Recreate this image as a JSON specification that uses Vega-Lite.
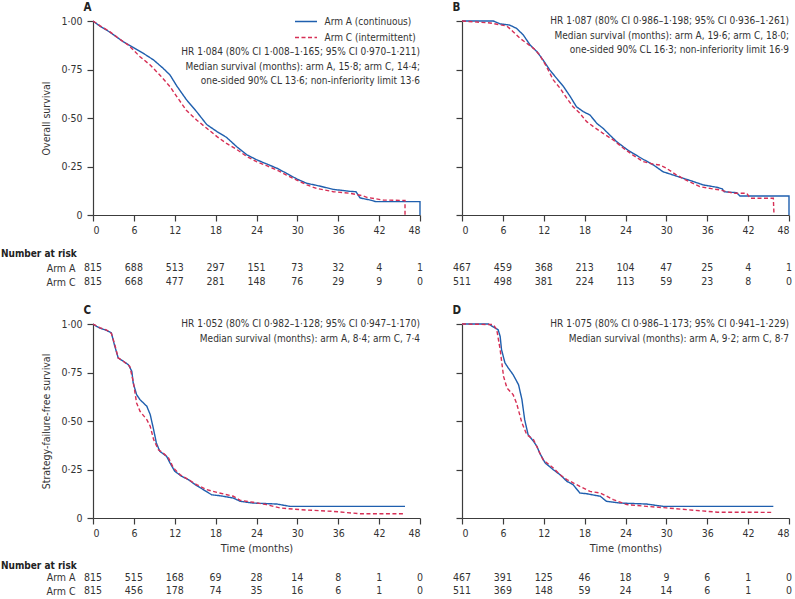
{
"$schema": "https://vega.github.io/schema/vega-lite/v6.json",
"padding": {"left": 0, "top": 1, "right": 2, "bottom": 2},
"config": {
  "font": "DejaVu Sans Condensed, Liberation Sans, sans-serif",
  "view": {"stroke": null},
  "axis": {"domainColor": "#3c3c3c", "tickColor": "#3c3c3c", "labelColor": "#333333", "labelFontSize": 10.5, "titleFontSize": 10.5, "titleFontWeight": "normal", "titleColor": "#333333", "grid": false, "tickSize": 6, "domainWidth": 1.2, "tickWidth": 1.2},
  "text": {"color": "#333333"}
},
"datasets": {
  "notes": [
    {"panel": "A", "note": "HR 1·084 (80% CI 1·008–1·165; 95% CI 0·970–1·211)\nMedian survival (months): arm A, 15·8; arm C, 14·4;\none-sided 90% CL 13·6; non-inferiority limit 13·6"},
    {"panel": "B", "note": "HR 1·087 (80% CI 0·986–1·198; 95% CI 0·936–1·261)\nMedian survival (months): arm A, 19·6; arm C, 18·0;\none-sided 90% CL 16·3; non-inferiority limit 16·9"},
    {"panel": "C", "note": "HR 1·052 (80% CI 0·982–1·128; 95% CI 0·947–1·170)\nMedian survival (months): arm A, 8·4; arm C, 7·4"},
    {"panel": "D", "note": "HR 1·075 (80% CI 0·986–1·173; 95% CI 0·941–1·229)\nMedian survival (months): arm A, 9·2; arm C, 8·7"}
  ],
  "risk": [
    {"panel":"A","arm":"Arm A","month":0,"n":815},{"panel":"A","arm":"Arm A","month":6,"n":688},{"panel":"A","arm":"Arm A","month":12,"n":513},{"panel":"A","arm":"Arm A","month":18,"n":297},{"panel":"A","arm":"Arm A","month":24,"n":151},{"panel":"A","arm":"Arm A","month":30,"n":73},{"panel":"A","arm":"Arm A","month":36,"n":32},{"panel":"A","arm":"Arm A","month":42,"n":4},{"panel":"A","arm":"Arm A","month":48,"n":1},
    {"panel":"A","arm":"Arm C","month":0,"n":815},{"panel":"A","arm":"Arm C","month":6,"n":668},{"panel":"A","arm":"Arm C","month":12,"n":477},{"panel":"A","arm":"Arm C","month":18,"n":281},{"panel":"A","arm":"Arm C","month":24,"n":148},{"panel":"A","arm":"Arm C","month":30,"n":76},{"panel":"A","arm":"Arm C","month":36,"n":29},{"panel":"A","arm":"Arm C","month":42,"n":9},{"panel":"A","arm":"Arm C","month":48,"n":0},
    {"panel":"B","arm":"Arm A","month":0,"n":467},{"panel":"B","arm":"Arm A","month":6,"n":459},{"panel":"B","arm":"Arm A","month":12,"n":368},{"panel":"B","arm":"Arm A","month":18,"n":213},{"panel":"B","arm":"Arm A","month":24,"n":104},{"panel":"B","arm":"Arm A","month":30,"n":47},{"panel":"B","arm":"Arm A","month":36,"n":25},{"panel":"B","arm":"Arm A","month":42,"n":4},{"panel":"B","arm":"Arm A","month":48,"n":1},
    {"panel":"B","arm":"Arm C","month":0,"n":511},{"panel":"B","arm":"Arm C","month":6,"n":498},{"panel":"B","arm":"Arm C","month":12,"n":381},{"panel":"B","arm":"Arm C","month":18,"n":224},{"panel":"B","arm":"Arm C","month":24,"n":113},{"panel":"B","arm":"Arm C","month":30,"n":59},{"panel":"B","arm":"Arm C","month":36,"n":23},{"panel":"B","arm":"Arm C","month":42,"n":8},{"panel":"B","arm":"Arm C","month":48,"n":0},
    {"panel":"C","arm":"Arm A","month":0,"n":815},{"panel":"C","arm":"Arm A","month":6,"n":515},{"panel":"C","arm":"Arm A","month":12,"n":168},{"panel":"C","arm":"Arm A","month":18,"n":69},{"panel":"C","arm":"Arm A","month":24,"n":28},{"panel":"C","arm":"Arm A","month":30,"n":14},{"panel":"C","arm":"Arm A","month":36,"n":8},{"panel":"C","arm":"Arm A","month":42,"n":1},{"panel":"C","arm":"Arm A","month":48,"n":0},
    {"panel":"C","arm":"Arm C","month":0,"n":815},{"panel":"C","arm":"Arm C","month":6,"n":456},{"panel":"C","arm":"Arm C","month":12,"n":178},{"panel":"C","arm":"Arm C","month":18,"n":74},{"panel":"C","arm":"Arm C","month":24,"n":35},{"panel":"C","arm":"Arm C","month":30,"n":16},{"panel":"C","arm":"Arm C","month":36,"n":6},{"panel":"C","arm":"Arm C","month":42,"n":1},{"panel":"C","arm":"Arm C","month":48,"n":0},
    {"panel":"D","arm":"Arm A","month":0,"n":467},{"panel":"D","arm":"Arm A","month":6,"n":391},{"panel":"D","arm":"Arm A","month":12,"n":125},{"panel":"D","arm":"Arm A","month":18,"n":46},{"panel":"D","arm":"Arm A","month":24,"n":18},{"panel":"D","arm":"Arm A","month":30,"n":9},{"panel":"D","arm":"Arm A","month":36,"n":6},{"panel":"D","arm":"Arm A","month":42,"n":1},{"panel":"D","arm":"Arm A","month":48,"n":0},
    {"panel":"D","arm":"Arm C","month":0,"n":511},{"panel":"D","arm":"Arm C","month":6,"n":369},{"panel":"D","arm":"Arm C","month":12,"n":148},{"panel":"D","arm":"Arm C","month":18,"n":59},{"panel":"D","arm":"Arm C","month":24,"n":24},{"panel":"D","arm":"Arm C","month":30,"n":14},{"panel":"D","arm":"Arm C","month":36,"n":6},{"panel":"D","arm":"Arm C","month":42,"n":1},{"panel":"D","arm":"Arm C","month":48,"n":0}
  ],
  "km": [
    {"panel":"A","arm":"A","month":0,"survival":1},{"panel":"A","arm":"A","month":1,"survival":0.974},{"panel":"A","arm":"A","month":2.5,"survival":0.942},{"panel":"A","arm":"A","month":4.45,"survival":0.893},{"panel":"A","arm":"A","month":5.9,"survival":0.864},{"panel":"A","arm":"A","month":7.4,"survival":0.833},{"panel":"A","arm":"A","month":8.9,"survival":0.799},{"panel":"A","arm":"A","month":10.3,"survival":0.756},{"panel":"A","arm":"A","month":11.3,"survival":0.722},{"panel":"A","arm":"A","month":12.3,"survival":0.665},{"panel":"A","arm":"A","month":13.7,"survival":0.595},{"panel":"A","arm":"A","month":15.2,"survival":0.533},{"panel":"A","arm":"A","month":16.7,"survival":0.466},{"panel":"A","arm":"A","month":18.2,"survival":0.43},{"panel":"A","arm":"A","month":19.6,"survival":0.4},{"panel":"A","arm":"A","month":21.1,"survival":0.352},{"panel":"A","arm":"A","month":22.6,"survival":0.31},{"panel":"A","arm":"A","month":24,"survival":0.285},{"panel":"A","arm":"A","month":25.5,"survival":0.263},{"panel":"A","arm":"A","month":27,"survival":0.241},{"panel":"A","arm":"A","month":28.4,"survival":0.215},{"panel":"A","arm":"A","month":29.9,"survival":0.186},{"panel":"A","arm":"A","month":31.4,"survival":0.163},{"panel":"A","arm":"A","month":32.8,"survival":0.153},{"panel":"A","arm":"A","month":35.3,"survival":0.132},{"panel":"A","arm":"A","month":37.7,"survival":0.122},{"panel":"A","arm":"A","month":38.6,"survival":0.12},{"panel":"A","arm":"A","month":39.2,"survival":0.088},{"panel":"A","arm":"A","month":40.7,"survival":0.077},{"panel":"A","arm":"A","month":41.5,"survival":0.069},{"panel":"A","arm":"A","month":48,"survival":0.069},{"panel":"A","arm":"A","month":48,"survival":0},
    {"panel":"A","arm":"C","month":0,"survival":1},{"panel":"A","arm":"C","month":1,"survival":0.976},{"panel":"A","arm":"C","month":2.5,"survival":0.944},{"panel":"A","arm":"C","month":4.45,"survival":0.893},{"panel":"A","arm":"C","month":5.2,"survival":0.876},{"panel":"A","arm":"C","month":6.9,"survival":0.816},{"panel":"A","arm":"C","month":8.4,"survival":0.773},{"panel":"A","arm":"C","month":9.8,"survival":0.722},{"panel":"A","arm":"C","month":11.3,"survival":0.662},{"panel":"A","arm":"C","month":12.3,"survival":0.61},{"panel":"A","arm":"C","month":13.7,"survival":0.54},{"panel":"A","arm":"C","month":15.2,"survival":0.49},{"panel":"A","arm":"C","month":16.7,"survival":0.447},{"panel":"A","arm":"C","month":18.2,"survival":0.404},{"panel":"A","arm":"C","month":19.6,"survival":0.369},{"panel":"A","arm":"C","month":21.1,"survival":0.338},{"panel":"A","arm":"C","month":22.6,"survival":0.301},{"panel":"A","arm":"C","month":24,"survival":0.275},{"panel":"A","arm":"C","month":25.5,"survival":0.254},{"panel":"A","arm":"C","month":27,"survival":0.232},{"panel":"A","arm":"C","month":28.4,"survival":0.206},{"panel":"A","arm":"C","month":29.9,"survival":0.18},{"panel":"A","arm":"C","month":31.4,"survival":0.155},{"panel":"A","arm":"C","month":32.8,"survival":0.137},{"panel":"A","arm":"C","month":35.3,"survival":0.12},{"panel":"A","arm":"C","month":37.7,"survival":0.112},{"panel":"A","arm":"C","month":39.5,"survival":0.1},{"panel":"A","arm":"C","month":40.2,"survival":0.091},{"panel":"A","arm":"C","month":42.6,"survival":0.077},{"panel":"A","arm":"C","month":45.8,"survival":0.075},{"panel":"A","arm":"C","month":45.8,"survival":0},
    {"panel":"B","arm":"A","month":0,"survival":1},{"panel":"B","arm":"A","month":4.6,"survival":1},{"panel":"B","arm":"A","month":5.6,"survival":0.985},{"panel":"B","arm":"A","month":7,"survival":0.979},{"panel":"B","arm":"A","month":8,"survival":0.962},{"panel":"B","arm":"A","month":9,"survival":0.928},{"panel":"B","arm":"A","month":10,"survival":0.876},{"panel":"B","arm":"A","month":11,"survival":0.842},{"panel":"B","arm":"A","month":11.9,"survival":0.799},{"panel":"B","arm":"A","month":12.9,"survival":0.747},{"panel":"B","arm":"A","month":13.9,"survival":0.704},{"panel":"B","arm":"A","month":14.9,"survival":0.662},{"panel":"B","arm":"A","month":15.9,"survival":0.61},{"panel":"B","arm":"A","month":16.8,"survival":0.558},{"panel":"B","arm":"A","month":17.8,"survival":0.533},{"panel":"B","arm":"A","month":18.8,"survival":0.515},{"panel":"B","arm":"A","month":19.8,"survival":0.472},{"panel":"B","arm":"A","month":20.7,"survival":0.447},{"panel":"B","arm":"A","month":21.7,"survival":0.412},{"panel":"B","arm":"A","month":22.7,"survival":0.378},{"panel":"B","arm":"A","month":24.2,"survival":0.338},{"panel":"B","arm":"A","month":25.1,"survival":0.318},{"panel":"B","arm":"A","month":26.6,"survival":0.287},{"panel":"B","arm":"A","month":28.1,"survival":0.258},{"panel":"B","arm":"A","month":29.5,"survival":0.223},{"panel":"B","arm":"A","month":31,"survival":0.206},{"panel":"B","arm":"A","month":32.5,"survival":0.189},{"panel":"B","arm":"A","month":34,"survival":0.172},{"panel":"B","arm":"A","month":35.4,"survival":0.155},{"panel":"B","arm":"A","month":37.4,"survival":0.143},{"panel":"B","arm":"A","month":38.2,"survival":0.135},{"panel":"B","arm":"A","month":38.5,"survival":0.12},{"panel":"B","arm":"A","month":40.3,"survival":0.115},{"panel":"B","arm":"A","month":40.8,"survival":0.098},{"panel":"B","arm":"A","month":48,"survival":0.098},{"panel":"B","arm":"A","month":48,"survival":0},
    {"panel":"B","arm":"C","month":0,"survival":1},{"panel":"B","arm":"C","month":4.1,"survival":0.99},{"panel":"B","arm":"C","month":6.6,"survival":0.974},{"panel":"B","arm":"C","month":7.5,"survival":0.945},{"panel":"B","arm":"C","month":8.5,"survival":0.911},{"panel":"B","arm":"C","month":9.5,"survival":0.885},{"panel":"B","arm":"C","month":10.5,"survival":0.859},{"panel":"B","arm":"C","month":11.4,"survival":0.825},{"panel":"B","arm":"C","month":12.4,"survival":0.765},{"panel":"B","arm":"C","month":13.4,"survival":0.696},{"panel":"B","arm":"C","month":14.4,"survival":0.653},{"panel":"B","arm":"C","month":15.4,"survival":0.601},{"panel":"B","arm":"C","month":16.3,"survival":0.558},{"panel":"B","arm":"C","month":17.3,"survival":0.524},{"panel":"B","arm":"C","month":18.3,"survival":0.481},{"panel":"B","arm":"C","month":19.3,"survival":0.455},{"panel":"B","arm":"C","month":20.7,"survival":0.421},{"panel":"B","arm":"C","month":22.2,"survival":0.387},{"panel":"B","arm":"C","month":23.7,"survival":0.344},{"panel":"B","arm":"C","month":25.1,"survival":0.309},{"panel":"B","arm":"C","month":26.6,"survival":0.275},{"panel":"B","arm":"C","month":28.1,"survival":0.262},{"panel":"B","arm":"C","month":29,"survival":0.258},{"panel":"B","arm":"C","month":30,"survival":0.241},{"panel":"B","arm":"C","month":31.5,"survival":0.206},{"panel":"B","arm":"C","month":32.9,"survival":0.18},{"panel":"B","arm":"C","month":34.9,"survival":0.146},{"panel":"B","arm":"C","month":36.4,"survival":0.137},{"panel":"B","arm":"C","month":37.9,"survival":0.129},{"panel":"B","arm":"C","month":39.8,"survival":0.112},{"panel":"B","arm":"C","month":41.8,"survival":0.112},{"panel":"B","arm":"C","month":42.3,"survival":0.086},{"panel":"B","arm":"C","month":45.7,"survival":0.086},{"panel":"B","arm":"C","month":45.8,"survival":0},
    {"panel":"C","arm":"A","month":0,"survival":1},{"panel":"C","arm":"A","month":0.5,"survival":0.988},{"panel":"C","arm":"A","month":1,"survival":0.979},{"panel":"C","arm":"A","month":2,"survival":0.967},{"panel":"C","arm":"A","month":2.7,"survival":0.954},{"panel":"C","arm":"A","month":3.2,"survival":0.885},{"panel":"C","arm":"A","month":3.7,"survival":0.825},{"panel":"C","arm":"A","month":4.45,"survival":0.808},{"panel":"C","arm":"A","month":5.2,"survival":0.79},{"panel":"C","arm":"A","month":5.7,"survival":0.756},{"panel":"C","arm":"A","month":5.9,"survival":0.696},{"panel":"C","arm":"A","month":6.4,"survival":0.636},{"panel":"C","arm":"A","month":6.9,"survival":0.61},{"panel":"C","arm":"A","month":7.9,"survival":0.576},{"panel":"C","arm":"A","month":8.4,"survival":0.533},{"panel":"C","arm":"A","month":8.9,"survival":0.455},{"panel":"C","arm":"A","month":9.3,"survival":0.387},{"panel":"C","arm":"A","month":9.8,"survival":0.344},{"panel":"C","arm":"A","month":10.8,"survival":0.318},{"panel":"C","arm":"A","month":11.3,"survival":0.284},{"panel":"C","arm":"A","month":12,"survival":0.241},{"panel":"C","arm":"A","month":13,"survival":0.215},{"panel":"C","arm":"A","month":14,"survival":0.198},{"panel":"C","arm":"A","month":15,"survival":0.172},{"panel":"C","arm":"A","month":16.2,"survival":0.146},{"panel":"C","arm":"A","month":17.4,"survival":0.12},{"panel":"C","arm":"A","month":18.6,"survival":0.115},{"panel":"C","arm":"A","month":20.6,"survival":0.103},{"panel":"C","arm":"A","month":21.6,"survival":0.086},{"panel":"C","arm":"A","month":23.5,"survival":0.077},{"panel":"C","arm":"A","month":27,"survival":0.072},{"panel":"C","arm":"A","month":28.9,"survival":0.06},{"panel":"C","arm":"A","month":45.8,"survival":0.06},
    {"panel":"C","arm":"C","month":0,"survival":1},{"panel":"C","arm":"C","month":0.5,"survival":0.99},{"panel":"C","arm":"C","month":1,"survival":0.981},{"panel":"C","arm":"C","month":2,"survival":0.969},{"panel":"C","arm":"C","month":2.7,"survival":0.952},{"panel":"C","arm":"C","month":3.2,"survival":0.893},{"panel":"C","arm":"C","month":3.7,"survival":0.825},{"panel":"C","arm":"C","month":4.45,"survival":0.808},{"panel":"C","arm":"C","month":5.4,"survival":0.782},{"panel":"C","arm":"C","month":5.9,"survival":0.704},{"panel":"C","arm":"C","month":6.4,"survival":0.593},{"panel":"C","arm":"C","month":6.9,"survival":0.55},{"panel":"C","arm":"C","month":7.9,"survival":0.507},{"panel":"C","arm":"C","month":8.4,"survival":0.473},{"panel":"C","arm":"C","month":8.9,"survival":0.404},{"panel":"C","arm":"C","month":9.6,"survival":0.352},{"panel":"C","arm":"C","month":10.3,"survival":0.335},{"panel":"C","arm":"C","month":11.1,"survival":0.309},{"panel":"C","arm":"C","month":11.8,"survival":0.258},{"panel":"C","arm":"C","month":12.8,"survival":0.223},{"panel":"C","arm":"C","month":14,"survival":0.198},{"panel":"C","arm":"C","month":15.2,"survival":0.172},{"panel":"C","arm":"C","month":16.7,"survival":0.146},{"panel":"C","arm":"C","month":18.2,"survival":0.132},{"panel":"C","arm":"C","month":20.6,"survival":0.112},{"panel":"C","arm":"C","month":21.6,"survival":0.091},{"panel":"C","arm":"C","month":23.5,"survival":0.081},{"panel":"C","arm":"C","month":25.5,"survival":0.069},{"panel":"C","arm":"C","month":27.4,"survival":0.052},{"panel":"C","arm":"C","month":30.4,"survival":0.043},{"panel":"C","arm":"C","month":35.3,"survival":0.034},{"panel":"C","arm":"C","month":39.2,"survival":0.022},{"panel":"C","arm":"C","month":45.8,"survival":0.022},
    {"panel":"D","arm":"A","month":0,"survival":1},{"panel":"D","arm":"A","month":3.9,"survival":1},{"panel":"D","arm":"A","month":4.6,"survival":0.985},{"panel":"D","arm":"A","month":5.3,"survival":0.971},{"panel":"D","arm":"A","month":5.6,"survival":0.936},{"panel":"D","arm":"A","month":5.8,"survival":0.868},{"panel":"D","arm":"A","month":6.3,"survival":0.8},{"panel":"D","arm":"A","month":6.8,"survival":0.773},{"panel":"D","arm":"A","month":7.5,"survival":0.739},{"panel":"D","arm":"A","month":8.3,"survival":0.687},{"panel":"D","arm":"A","month":8.8,"survival":0.61},{"panel":"D","arm":"A","month":9.2,"survival":0.507},{"panel":"D","arm":"A","month":9.7,"survival":0.43},{"panel":"D","arm":"A","month":10.5,"survival":0.395},{"panel":"D","arm":"A","month":11,"survival":0.369},{"panel":"D","arm":"A","month":11.4,"survival":0.335},{"panel":"D","arm":"A","month":12.2,"survival":0.284},{"panel":"D","arm":"A","month":13.4,"survival":0.249},{"panel":"D","arm":"A","month":14.4,"survival":0.223},{"panel":"D","arm":"A","month":15.4,"survival":0.189},{"panel":"D","arm":"A","month":16.3,"survival":0.172},{"panel":"D","arm":"A","month":17.3,"survival":0.129},{"panel":"D","arm":"A","month":18.3,"survival":0.125},{"panel":"D","arm":"A","month":20.3,"survival":0.112},{"panel":"D","arm":"A","month":21.2,"survival":0.086},{"panel":"D","arm":"A","month":23.2,"survival":0.077},{"panel":"D","arm":"A","month":27.1,"survival":0.072},{"panel":"D","arm":"A","month":29.5,"survival":0.06},{"panel":"D","arm":"A","month":45.7,"survival":0.06},
    {"panel":"D","arm":"C","month":0,"survival":1},{"panel":"D","arm":"C","month":4.6,"survival":0.997},{"panel":"D","arm":"C","month":5.1,"survival":0.971},{"panel":"D","arm":"C","month":5.6,"survival":0.868},{"panel":"D","arm":"C","month":6.1,"survival":0.73},{"panel":"D","arm":"C","month":6.6,"survival":0.67},{"panel":"D","arm":"C","month":7.5,"survival":0.636},{"panel":"D","arm":"C","month":8,"survival":0.593},{"panel":"D","arm":"C","month":8.8,"survival":0.49},{"panel":"D","arm":"C","month":9.5,"survival":0.43},{"panel":"D","arm":"C","month":10.5,"survival":0.404},{"panel":"D","arm":"C","month":11.2,"survival":0.352},{"panel":"D","arm":"C","month":11.9,"survival":0.3},{"panel":"D","arm":"C","month":13.4,"survival":0.258},{"panel":"D","arm":"C","month":14.4,"survival":0.223},{"panel":"D","arm":"C","month":15.4,"survival":0.198},{"panel":"D","arm":"C","month":17.3,"survival":0.163},{"panel":"D","arm":"C","month":18.8,"survival":0.137},{"panel":"D","arm":"C","month":20.3,"survival":0.129},{"panel":"D","arm":"C","month":22.2,"survival":0.095},{"panel":"D","arm":"C","month":24.2,"survival":0.069},{"panel":"D","arm":"C","month":27.1,"survival":0.06},{"panel":"D","arm":"C","month":30,"survival":0.052},{"panel":"D","arm":"C","month":33,"survival":0.043},{"panel":"D","arm":"C","month":37.5,"survival":0.03},{"panel":"D","arm":"C","month":45.7,"survival":0.029}
  ]
},
"bounds": "flush",
"columns": 2,
"spacing": {"row": 42, "column": 42},
"concat": [
   {"width": 327, "height": 194,
    "layer": [
     {"data": {"name": "km"}, "transform": [{"filter": "datum.panel == 'A'"}],
      "mark": {"type": "line", "strokeWidth": 1.4},
      "encoding": {
       "x": {"field": "month", "type": "quantitative", "scale": {"domain": [0, 48], "nice": false}, "axis": {"values": [0,6,12,18,24,30,36,42,48], "labelPadding": 4, "title": null}},
       "y": {"field": "survival", "type": "quantitative", "scale": {"domain": [0, 1], "nice": false}, "axis": {"values": [0,0.25,0.5,0.75,1], "labelExpr": "datum.value == 0 ? '0' : replace(format(datum.value, '.2f'), '.', '·')", "title": "Overall survival", "labelPadding": 5, "titlePadding": 9}},
       "color": {"field": "arm", "type": "nominal", "scale": {"domain": ["A", "C"], "range": ["#1f5fae", "#d62f55"]}, "legend": {"title": null, "orient": "none", "legendX": 206.5, "legendY": -6, "padding": 0, "symbolType": "M-2,0H2", "symbolSize": 121, "symbolStrokeWidth": 1.4, "labelFontSize": 10, "labelOffset": 12, "rowPadding": 4, "labelColor": "#333333", "labelExpr": "datum.value == 'A' ? 'Arm A (continuous)' : 'Arm C (intermittent)'"}},
       "strokeDash": {"field": "arm", "type": "nominal", "scale": {"domain": ["A", "C"], "range": [[1, 0], [4, 2.5]]}, "legend": {"title": null, "orient": "none", "legendX": 206.5, "legendY": -6, "padding": 0, "symbolType": "M-2,0H2", "symbolSize": 121, "symbolStrokeWidth": 1.4, "labelFontSize": 10, "labelOffset": 12, "rowPadding": 4, "labelColor": "#333333", "labelExpr": "datum.value == 'A' ? 'Arm A (continuous)' : 'Arm C (intermittent)'"}}
      }},
     {"data": {"name": "notes"}, "transform": [{"filter": "datum.panel == 'A'"}],
      "mark": {"type": "text", "align": "right", "baseline": "top", "lineBreak": "\n", "lineHeight": 14.5, "dy": 26, "fontSize": 10},
      "encoding": {"x": {"datum": 48}, "y": {"datum": 1}, "text": {"field": "note"}}},
     {"data": {"name": "notes"}, "transform": [{"filter": "datum.panel == 'A'"}],
      "mark": {"type": "text", "align": "left", "baseline": "alphabetic", "dx": -9.5, "dy": -10.5, "fontSize": 11.5, "fontWeight": "bold", "color": "#222222"},
      "encoding": {"x": {"datum": 0}, "y": {"datum": 1}, "text": {"field": "panel"}}}
    ]},
   {"width": 327, "height": 194,
    "layer": [
     {"data": {"name": "km"}, "transform": [{"filter": "datum.panel == 'B'"}],
      "mark": {"type": "line", "strokeWidth": 1.4},
      "encoding": {
       "x": {"field": "month", "type": "quantitative", "scale": {"domain": [0, 48], "nice": false}, "axis": {"values": [0,6,12,18,24,30,36,42,48], "labelPadding": 4, "title": null}},
       "y": {"field": "survival", "type": "quantitative", "scale": {"domain": [0, 1], "nice": false}, "axis": {"values": [0,0.25,0.5,0.75,1], "labels": false, "title": null}},
       "color": {"field": "arm", "type": "nominal", "scale": {"domain": ["A", "C"], "range": ["#1f5fae", "#d62f55"]}, "legend": null},
       "strokeDash": {"field": "arm", "type": "nominal", "scale": {"domain": ["A", "C"], "range": [[1, 0], [4, 2.5]]}, "legend": null}
      }},
     {"data": {"name": "notes"}, "transform": [{"filter": "datum.panel == 'B'"}],
      "mark": {"type": "text", "align": "right", "baseline": "top", "lineBreak": "\n", "lineHeight": 14.5, "dy": -5, "fontSize": 10},
      "encoding": {"x": {"datum": 48}, "y": {"datum": 1}, "text": {"field": "note"}}},
     {"data": {"name": "notes"}, "transform": [{"filter": "datum.panel == 'B'"}],
      "mark": {"type": "text", "align": "left", "baseline": "alphabetic", "dx": -9.5, "dy": -10.5, "fontSize": 11.5, "fontWeight": "bold", "color": "#222222"},
      "encoding": {"x": {"datum": 0}, "y": {"datum": 1}, "text": {"field": "panel"}}}
    ]},
   {"width": 327, "height": 25,
    "data": {"name": "risk"}, "transform": [{"filter": "datum.panel == 'A'"}],
    "mark": {"type": "text", "fontSize": 10.5, "baseline": "middle"},
    "encoding": {
     "x": {"field": "month", "type": "quantitative", "scale": {"domain": [0, 48], "nice": false}, "axis": null},
     "y": {"field": "arm", "type": "nominal", "scale": {"type": "point", "padding": 0.393, "align": 1, "domain": ["Arm A", "Arm C"]}, "axis": {"title": "Number at risk", "titleAngle": 0, "titleAlign": "left", "titleBaseline": "middle", "titleX": -92.5, "titleY": -4, "titleFontWeight": "bold", "titleFontSize": 10, "titleColor": "#222222", "domain": false, "ticks": false, "tickSize": 0, "labelPadding": 18, "labelFontSize": 10.5}},
     "text": {"field": "n", "type": "quantitative"}
    }},
   {"width": 327, "height": 25,
    "data": {"name": "risk"}, "transform": [{"filter": "datum.panel == 'B'"}],
    "mark": {"type": "text", "fontSize": 10.5, "baseline": "middle"},
    "encoding": {
     "x": {"field": "month", "type": "quantitative", "scale": {"domain": [0, 48], "nice": false}, "axis": null},
     "y": {"field": "arm", "type": "nominal", "scale": {"type": "point", "padding": 0.393, "align": 1, "domain": ["Arm A", "Arm C"]}, "axis": null},
     "text": {"field": "n", "type": "quantitative"}
    }},
   {"width": 327, "height": 194,
    "layer": [
     {"data": {"name": "km"}, "transform": [{"filter": "datum.panel == 'C'"}],
      "mark": {"type": "line", "strokeWidth": 1.4},
      "encoding": {
       "x": {"field": "month", "type": "quantitative", "scale": {"domain": [0, 48], "nice": false}, "axis": {"values": [0,6,12,18,24,30,36,42,48], "labelPadding": 4, "title": "Time (months)", "titlePadding": 4, "titleFontSize": 11}},
       "y": {"field": "survival", "type": "quantitative", "scale": {"domain": [0, 1], "nice": false}, "axis": {"values": [0,0.25,0.5,0.75,1], "labelExpr": "datum.value == 0 ? '0' : replace(format(datum.value, '.2f'), '.', '·')", "title": "Strategy-failure-free survival", "labelPadding": 5, "titlePadding": 9}},
       "color": {"field": "arm", "type": "nominal", "scale": {"domain": ["A", "C"], "range": ["#1f5fae", "#d62f55"]}, "legend": null},
       "strokeDash": {"field": "arm", "type": "nominal", "scale": {"domain": ["A", "C"], "range": [[1, 0], [4, 2.5]]}, "legend": null}
      }},
     {"data": {"name": "notes"}, "transform": [{"filter": "datum.panel == 'C'"}],
      "mark": {"type": "text", "align": "right", "baseline": "top", "lineBreak": "\n", "lineHeight": 14.5, "dy": -5, "fontSize": 10},
      "encoding": {"x": {"datum": 48}, "y": {"datum": 1}, "text": {"field": "note"}}},
     {"data": {"name": "notes"}, "transform": [{"filter": "datum.panel == 'C'"}],
      "mark": {"type": "text", "align": "left", "baseline": "alphabetic", "dx": -9.5, "dy": -10.5, "fontSize": 11.5, "fontWeight": "bold", "color": "#222222"},
      "encoding": {"x": {"datum": 0}, "y": {"datum": 1}, "text": {"field": "panel"}}}
    ]},
   {"width": 327, "height": 194,
    "layer": [
     {"data": {"name": "km"}, "transform": [{"filter": "datum.panel == 'D'"}],
      "mark": {"type": "line", "strokeWidth": 1.4},
      "encoding": {
       "x": {"field": "month", "type": "quantitative", "scale": {"domain": [0, 48], "nice": false}, "axis": {"values": [0,6,12,18,24,30,36,42,48], "labelPadding": 4, "title": "Time (months)", "titlePadding": 4, "titleFontSize": 11}},
       "y": {"field": "survival", "type": "quantitative", "scale": {"domain": [0, 1], "nice": false}, "axis": {"values": [0,0.25,0.5,0.75,1], "labels": false, "title": null}},
       "color": {"field": "arm", "type": "nominal", "scale": {"domain": ["A", "C"], "range": ["#1f5fae", "#d62f55"]}, "legend": null},
       "strokeDash": {"field": "arm", "type": "nominal", "scale": {"domain": ["A", "C"], "range": [[1, 0], [4, 2.5]]}, "legend": null}
      }},
     {"data": {"name": "notes"}, "transform": [{"filter": "datum.panel == 'D'"}],
      "mark": {"type": "text", "align": "right", "baseline": "top", "lineBreak": "\n", "lineHeight": 14.5, "dy": -5, "fontSize": 10},
      "encoding": {"x": {"datum": 48}, "y": {"datum": 1}, "text": {"field": "note"}}},
     {"data": {"name": "notes"}, "transform": [{"filter": "datum.panel == 'D'"}],
      "mark": {"type": "text", "align": "left", "baseline": "alphabetic", "dx": -9.5, "dy": -10.5, "fontSize": 11.5, "fontWeight": "bold", "color": "#222222"},
      "encoding": {"x": {"datum": 0}, "y": {"datum": 1}, "text": {"field": "panel"}}}
    ]},
   {"width": 327, "height": 31,
    "data": {"name": "risk"}, "transform": [{"filter": "datum.panel == 'C'"}],
    "mark": {"type": "text", "fontSize": 10.5, "baseline": "middle"},
    "encoding": {
     "x": {"field": "month", "type": "quantitative", "scale": {"domain": [0, 48], "nice": false}, "axis": null},
     "y": {"field": "arm", "type": "nominal", "scale": {"type": "point", "padding": 0.692, "align": 1, "domain": ["Arm A", "Arm C"]}, "axis": {"title": "Number at risk", "titleAngle": 0, "titleAlign": "left", "titleBaseline": "middle", "titleX": -92.5, "titleY": 5, "titleFontWeight": "bold", "titleFontSize": 10, "titleColor": "#222222", "domain": false, "ticks": false, "tickSize": 0, "labelPadding": 18, "labelFontSize": 10.5}},
     "text": {"field": "n", "type": "quantitative"}
    }},
   {"width": 327, "height": 31,
    "data": {"name": "risk"}, "transform": [{"filter": "datum.panel == 'D'"}],
    "mark": {"type": "text", "fontSize": 10.5, "baseline": "middle"},
    "encoding": {
     "x": {"field": "month", "type": "quantitative", "scale": {"domain": [0, 48], "nice": false}, "axis": null},
     "y": {"field": "arm", "type": "nominal", "scale": {"type": "point", "padding": 0.692, "align": 1, "domain": ["Arm A", "Arm C"]}, "axis": null},
     "text": {"field": "n", "type": "quantitative"}
    }}
]
}
